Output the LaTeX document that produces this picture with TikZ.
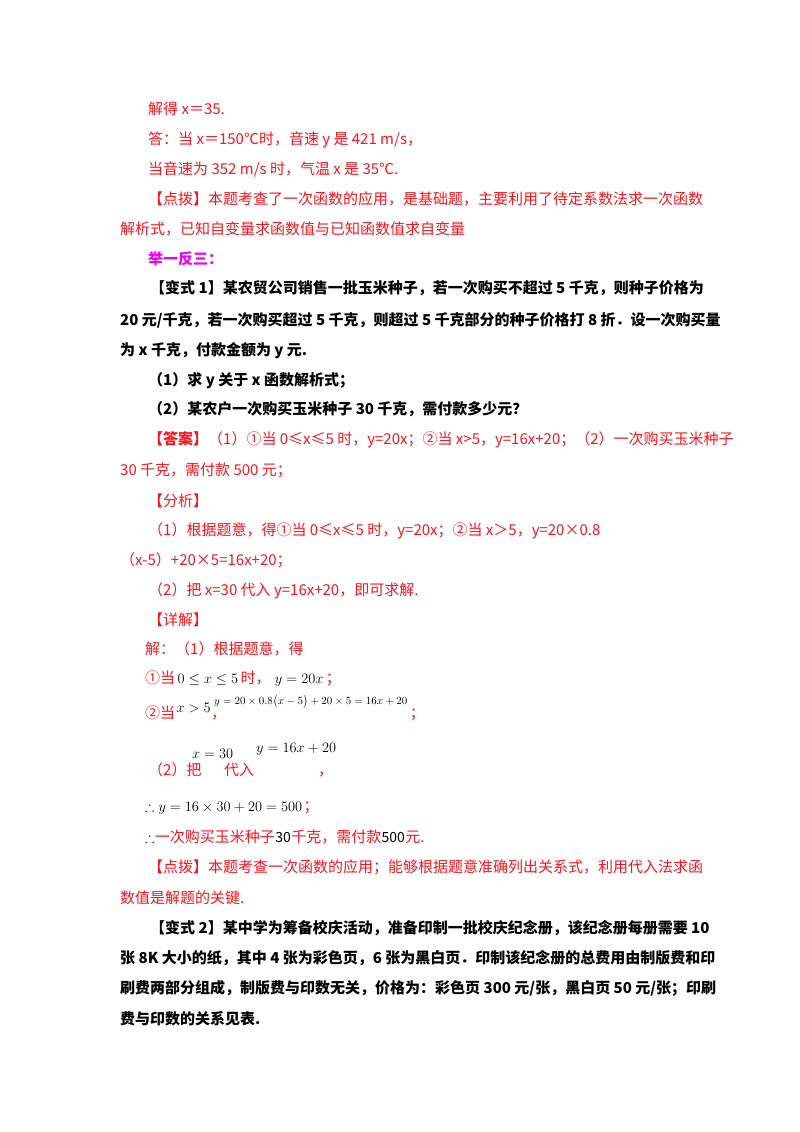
\documentclass[tikz,border=0pt]{standalone}
\usepackage{amsmath}
\usepackage{amssymb}
\usepackage{fontspec}
\setmainfont{Noto Sans CJK SC}
\usetikzlibrary{positioning}
\definecolor{ansred}{RGB}{250,20,30}
\definecolor{tipmag}{RGB}{240,0,240}

\begin{document}
\begin{tikzpicture}[x=1pt,y=-1pt,
      textline/.style={anchor=base west,inner sep=0pt,font=\fontsize{15}{18}\selectfont},
      redline/.style={textline,text=ansred},
      boldline/.style={textline,font=\fontsize{15}{18}\selectfont\bfseries},
      mathbit/.style={anchor=base west,inner sep=0pt,font=\fontsize{14}{16}\selectfont}]
    \useasboundingbox (0,0) rectangle (800,1132);

    % Solution of the previous problem
    \node[redline] (sol)   at (148,114) {解得 x＝35.};
    \node[redline] (ans)   at (148,144) {答：当 x＝150℃时，音速 y 是 421 m/s，};
    \node[redline] (ansb)  at (148,174) {当音速为 352 m/s 时，气温 x 是 35℃.};
    \node[redline] (tipa)  at (148,204) {【点拨】本题考查了一次函数的应用，是基础题，主要利用了待定系数法求一次函数};
    \node[redline] (tipb)  at (120,234) {解析式，已知自变量求函数值与已知函数值求自变量};
    \node[textline,text=tipmag,font=\fontsize{15}{18}\selectfont\bfseries] (drill) at (148,264) {举一反三：};

    % Variant 1
    \node[boldline] (va)   at (150,293) {【变式 1】某农贸公司销售一批玉米种子，若一次购买不超过 5 千克，则种子价格为};
    \node[boldline] (vb)   at (120,325) {20 元/千克，若一次购买超过 5 千克，则超过 5 千克部分的种子价格打 8 折．设一次购买量};
    \node[boldline] (vc)   at (120,355) {为 x 千克，付款金额为 y 元.};
    \node[boldline] (qa)   at (148,385) {（1）求 y 关于 x 函数解析式；};
    \node[boldline] (qb)   at (148,414) {（2）某农户一次购买玉米种子 30 千克，需付款多少元？};

    % Answer and analysis
    \node[redline] (keya)  at (148,444) {\textbf{【答案】}（1）①当 0≤x≤5 时，y=20x；②当 x>5，y=16x+20；（2）一次购买玉米种子};
    \node[redline] (keyb)  at (120,475) {30 千克，需付款 500 元；};
    \node[redline] (anl)   at (148,506) {【分析】};
    \node[redline] (anla)  at (148,535) {（1）根据题意，得①当 0≤x≤5 时，y=20x；②当 x＞5，y=20×0.8};
    \node[redline] (anlb)  at (120,565) {（x-5）+20×5=16x+20；};
    \node[redline] (anlc)  at (148,595) {（2）把 x=30 代入 y=16x+20，即可求解.};
    \node[redline] (det)   at (148,625) {【详解】};
    \node[redline] (deta)  at (145,654) {解：（1）根据题意，得};

    % Worked steps
    \node[redline]  (s1)   at (145,683) {①当};
    \node[mathbit]  (s1m)  at ([xshift=2pt]s1.base east) {$0\le x\le 5$};
    \node[redline]  (s1t)  at ([xshift=2pt]s1m.base east) {时，};
    \node[mathbit]  (s1y)  at ([xshift=4pt]s1t.base east) {$y=20x$};
    \node[redline]  (s1e)  at ([xshift=2pt]s1y.base east) {；};
    \node[redline]  (s2)   at (145,718) {②当};
    \node[mathbit]  (s2m)  at ([xshift=1pt,yshift=6pt]s2.base east) {$x>5$};
    \node[redline]  (s2c)  at ([yshift=-6pt]s2m.base east) {，};
    \node[mathbit,font=\fontsize{11}{13}\selectfont]
                    (s2y)  at (214,704) {$y=20\times0.8\bigl(x-5\bigr)+20\times5=16x+20$};
    \node[redline]  (s2e)  at ([xshift=2pt,yshift=-14pt]s2y.base east) {；};
    \node[redline]  (s3)   at (148,775) {（2）把};
    \node[mathbit]  (s3m)  at (192,758) {$x=30$};
    \node[redline]  (s3t)  at (224,775) {代入};
    \node[mathbit]  (s3y)  at (256,752) {$y=16x+20$};
    \node[redline]  (s3e)  at (318,775) {，};
    \node[mathbit]  (s4)   at (145,811) {$\therefore y=16\times30+20=500$};
    \node[redline]  (s4e)  at ([xshift=1pt]s4.base east) {；};
    \node[mathbit]  (s5)   at (145,842) {$\therefore$};
    \node[redline]  (s5t)  at (s5.base east) {一次购买玉米种子};
    \node[mathbit]  (s5a)  at (s5t.base east) {30};
    \node[redline]  (s5b)  at (s5a.base east) {千克，需付款};
    \node[mathbit]  (s5c)  at (s5b.base east) {500};
    \node[redline]  (s5d)  at (s5c.base east) {元.};

    % Remark
    \node[redline] (rema)  at (148,872) {【点拨】本题考查一次函数的应用；能够根据题意准确列出关系式，利用代入法求函};
    \node[redline] (remb)  at (120,903) {数值是解题的关键.};

    % Variant 2
    \node[boldline] (wa)   at (150,933) {【变式 2】某中学为筹备校庆活动，准备印制一批校庆纪念册，该纪念册每册需要 10};
    \node[boldline] (wb)   at (120,963) {张 8K 大小的纸，其中 4 张为彩色页，6 张为黑白页．印制该纪念册的总费用由制版费和印};
    \node[boldline] (wc)   at (120,993) {刷费两部分组成，制版费与印数无关，价格为：彩色页 300 元/张，黑白页 50 元/张；印刷};
    \node[boldline] (wd)   at (120,1024) {费与印数的关系见表.};
\end{tikzpicture}
\end{document}
